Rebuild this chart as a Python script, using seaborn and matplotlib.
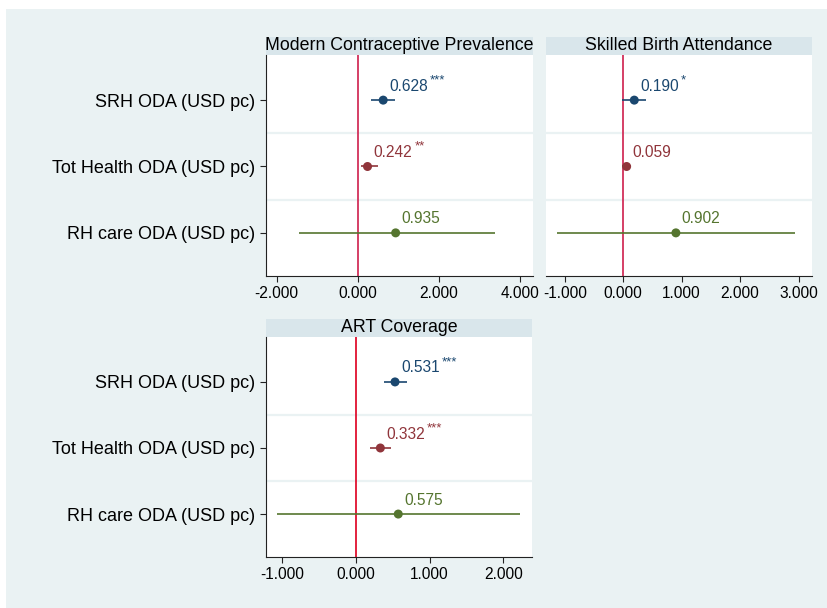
import numpy as np
import pandas as pd
import seaborn as sns
import matplotlib
matplotlib.use("Agg")
import matplotlib.pyplot as plt
from matplotlib.patches import Rectangle
from matplotlib.ticker import FormatStrFormatter

# ---- data ---------------------------------------------------------------
categories = ["SRH ODA (USD pc)", "Tot Health ODA (USD pc)", "RH care ODA (USD pc)"]
colors = ["#1a476f", "#90353b", "#55752f"]

titles = ["Modern Contraceptive Prevalence", "Skilled Birth Attendance", "ART Coverage"]

mcp_coef = [0.628, 0.242, 0.935]
mcp_lo = [0.33, 0.07, -1.45]
mcp_hi = [0.93, 0.49, 3.39]
mcp_stars = ["***", "**", ""]

sba_coef = [0.190, 0.059, 0.902]
sba_lo = [-0.02, -0.02, -1.13]
sba_hi = [0.39, 0.14, 2.94]
sba_stars = ["*", "", ""]

art_coef = [0.531, 0.332, 0.575]
art_lo = [0.38, 0.19, -1.07]
art_hi = [0.69, 0.48, 2.23]
art_stars = ["***", "***", ""]

mcp_ticks = [-2, 0, 2, 4]
sba_ticks = [-1, 0, 1, 2, 3]
art_ticks = [-1, 0, 1, 2]

# ---- style --------------------------------------------------------------
sns.set_theme(style="white")
plt.rcParams["font.family"] = ["Liberation Sans", "DejaVu Sans"]
plt.rcParams["axes.unicode_minus"] = False

W, H = 828, 608
fig = plt.figure(figsize=(W / 100, H / 100), dpi=100, facecolor="white")
BG = "#eaf2f3"
STRIP = "#d9e6eb"
fig.patches.append(Rectangle((6 / W, 0), 1, 1 - 9 / H, transform=fig.transFigure,
                             facecolor=BG, edgecolor="none", zorder=-10))


def px_axes(x0, y0, x1, y1):
    return fig.add_axes([x0 / W, 1 - y1 / H, (x1 - x0) / W, (y1 - y0) / H])


def panel(ax, title, coef, lo, hi, stars, ticks, xlim, zero_color, show_y):
    df = pd.DataFrame({"category": categories, "coef": coef, "lo": lo, "hi": hi,
                       "pos": np.arange(len(categories)), "stars": stars})
    ax.set_facecolor("white")
    # row separators
    for yy in (0.5, 1.5):
        ax.axhline(yy, color=BG, lw=1.6, zorder=0)
    ax.axvline(0, color=zero_color, lw=1.3, zorder=1)
    # confidence intervals
    for _, r in df.iterrows():
        ax.hlines(r["pos"], r["lo"], r["hi"], color=colors[int(r["pos"])], lw=1.2, zorder=2)
    sns.scatterplot(data=df, x="coef", y="pos", hue="category", palette=colors,
                    hue_order=categories, s=42, edgecolor="none", legend=False,
                    ax=ax, zorder=3)
    # value labels with significance stars
    for _, r in df.iterrows():
        c = colors[int(r["pos"])]
        t = ax.annotate(f"{r['coef']:.3f}", xy=(r["coef"], r["pos"]), xytext=(4.3, 6.8),
                        textcoords="offset points", ha="left", va="baseline",
                        fontsize=11.2, color=c)
        if r["stars"]:
            ax.annotate(r["stars"], xy=(1, 1), xycoords=t, xytext=(1.5, 3.0),
                        textcoords="offset points", ha="left", va="top",
                        fontsize=9.5, color=c)
    ax.set_xlim(*xlim)
    ax.set_ylim(2.65, -0.68)
    ax.set_xticks(ticks)
    ax.xaxis.set_major_formatter(FormatStrFormatter("%.3f"))
    ax.set_xlabel("")
    ax.set_ylabel("")
    ax.tick_params(axis="x", direction="out", length=4.5, width=0.8, color="#222222",
                   labelsize=11.2, labelcolor="black", pad=3, bottom=True)
    for s in ("top", "right"):
        ax.spines[s].set_visible(False)
    ax.spines["bottom"].set_color("#222222")
    ax.spines["bottom"].set_linewidth(0.8)
    if show_y:
        ax.set_yticks(df["pos"])
        ax.set_yticklabels(categories)
        ax.tick_params(axis="y", direction="out", length=4.5, width=0.8, color="#222222",
                       labelsize=13, labelcolor="black", pad=3, left=True)
        ax.spines["left"].set_color("#222222")
        ax.spines["left"].set_linewidth(0.8)
    else:
        ax.set_yticks([])
        ax.spines["left"].set_visible(False)
    # title strip
    h = ax.get_position().height * H
    sh = 18 / h
    ax.add_patch(Rectangle((0, 1), 1, sh, transform=ax.transAxes, facecolor=STRIP,
                           edgecolor="none", clip_on=False, zorder=0))
    ax.text(0.5, 1 + sh / 2, title, transform=ax.transAxes, ha="center", va="center",
            fontsize=12.8, color="black")


ax1 = px_axes(266, 55, 533, 276)
ax2 = px_axes(546, 55, 812, 276)
ax3 = px_axes(266, 337, 532, 557)

panel(ax1, titles[0], mcp_coef, mcp_lo, mcp_hi, mcp_stars, mcp_ticks, (-2.26, 4.32), "#d2305a", True)
panel(ax2, titles[1], sba_coef, sba_lo, sba_hi, sba_stars, sba_ticks, (-1.32, 3.23), "#d2305a", False)
panel(ax3, titles[2], art_coef, art_lo, art_hi, art_stars, art_ticks, (-1.22, 2.39), "#e0102f", True)

fig.savefig("out.png", dpi=100, facecolor="white")
